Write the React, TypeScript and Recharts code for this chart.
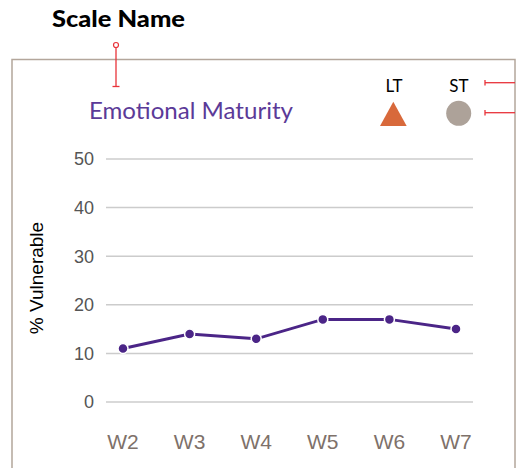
import React from 'react';
import { LineChart, Line, XAxis, YAxis, CartesianGrid } from 'recharts';

const weeks = ['W2', 'W3', 'W4', 'W5', 'W6', 'W7'];
const vulnerable = [11, 14, 13, 17, 17, 15];
const yTicks = [0, 10, 20, 30, 40, 50];
const scaleTitle = 'Scale Name';
const scaleName = 'Emotional Maturity';
const legendLabels = ['LT', 'ST'];
const yLabel = '% Vulnerable';

const data = weeks.map((w, i) => ({ week: w, value: vulnerable[i] }));

const LINE = '#4b2587';
const RED = '#e8333a';

export default function App() {
  return (
    <div style={{ position: 'absolute', top: 0, left: 0, width: 516, height: 468, background: '#fff', overflow: 'hidden' }}>
      <LineChart width={516} height={468} data={data} margin={{ top: 159, right: 43, bottom: 0, left: 0 }}>
        <CartesianGrid vertical={false} stroke="#cccccc" strokeWidth={1.5} />
        <XAxis
          dataKey="week"
          interval={0}
          padding={{ left: 17, right: 17 }}
          axisLine={false}
          tickLine={false}
          tickSize={6}
          tickMargin={26}
          height={66}
          tick={{ fontSize: 21, fill: '#7e716a', fontFamily: "'Liberation Sans', Arial, sans-serif" }}
        />
        <YAxis
          domain={[0, 50]}
          ticks={yTicks}
          width={106}
          axisLine={false}
          tickLine={false}
          tickSize={6}
          tickMargin={6}
          tick={{ fontSize: 18, fill: '#555555', fontFamily: "'Liberation Sans', Arial, sans-serif" }}
        />
        <Line
          type="linear"
          dataKey="value"
          stroke={LINE}
          strokeWidth={3}
          dot={{ r: 5, fill: LINE, stroke: '#ffffff', strokeWidth: 1.5 }}
          isAnimationActive={false}
        />
      </LineChart>
      <svg
        width={516}
        height={468}
        style={{ position: 'absolute', top: 0, left: 0, pointerEvents: 'none' }}
      >
        <rect x={12} y={59.5} width={503} height={430} fill="none" stroke="#b3a69b" strokeWidth={1.5} />
        <text x={52} y={26.5} fontSize={22} fontWeight={900} fill="#000" fontFamily="Lato, 'Noto Sans', sans-serif" textLength={133} lengthAdjust="spacingAndGlyphs">
          {scaleTitle}
        </text>
        <line x1={116} y1={47.5} x2={116} y2={86.5} stroke={RED} strokeWidth={1.3} />
        <line x1={112.5} y1={86.5} x2={119.5} y2={86.5} stroke={RED} strokeWidth={1.3} />
        <circle cx={116} cy={45} r={2.5} fill="#fff" stroke={RED} strokeWidth={1.2} />
        <text x={89} y={118.5} fontSize={23} fill="#5b3a98" fontFamily="Lato, 'Noto Sans', sans-serif" textLength={204} lengthAdjust="spacingAndGlyphs">
          {scaleName}
        </text>
        <text x={394} y={92.3} fontSize={17} fill="#000" textAnchor="middle" fontFamily="Lato, 'Noto Sans', sans-serif">
          {legendLabels[0]}
        </text>
        <text x={459} y={92.3} fontSize={17} fill="#000" textAnchor="middle" fontFamily="Lato, 'Noto Sans', sans-serif">
          {legendLabels[1]}
        </text>
        <polygon points="393.3,101.7 380,126 406.7,126" fill="#d8693b" />
        <circle cx={458.7} cy={113.3} r={12.5} fill="#ada299" />
        <line x1={485} y1={82.7} x2={515} y2={82.7} stroke={RED} strokeWidth={1.3} />
        <line x1={485} y1={80} x2={485} y2={85.5} stroke={RED} strokeWidth={1.3} />
        <line x1={485} y1={112.7} x2={515} y2={112.7} stroke={RED} strokeWidth={1.3} />
        <line x1={485} y1={110} x2={485} y2={115.5} stroke={RED} strokeWidth={1.3} />
        <text
          x={43}
          y={278}
          fontSize={19}
          fill="#000"
          textAnchor="middle"
          transform="rotate(-90, 43, 278)"
          fontFamily="'Liberation Sans', Arial, sans-serif"
        >
          {yLabel}
        </text>
      </svg>
    </div>
  );
}
